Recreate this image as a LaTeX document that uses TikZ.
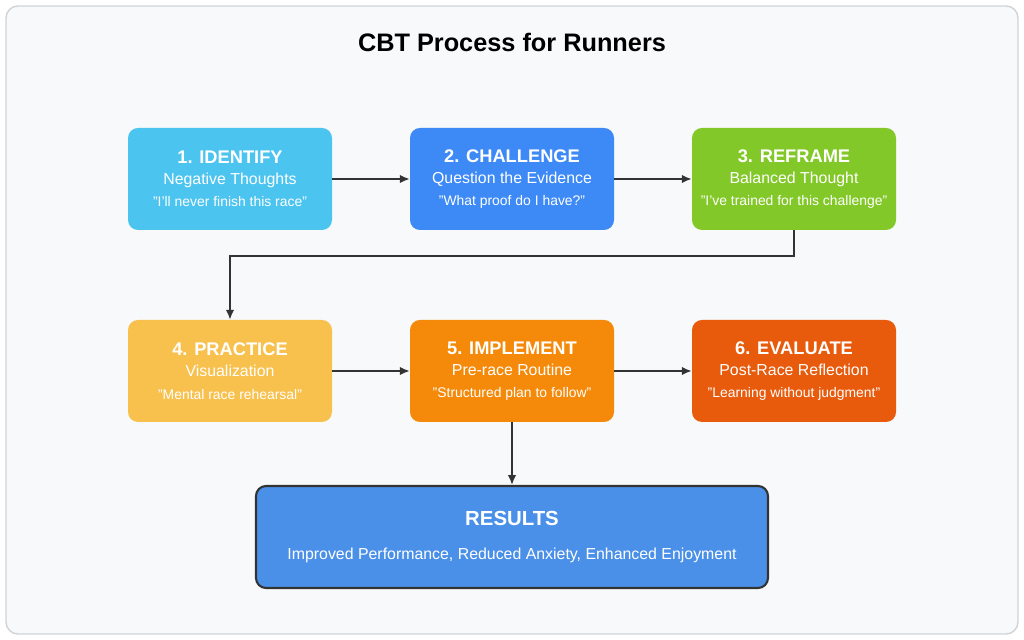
\documentclass[tikz,border=0pt]{standalone}
\usepackage{fontspec}
\setmainfont{Liberation Sans}
\usepackage{xcolor}
\usetikzlibrary{arrows.meta}
\definecolor{frameback}{HTML}{F8F9FA}
\definecolor{framegray}{HTML}{D0D4D8}
\definecolor{identifycol}{HTML}{4CC4F0}
\definecolor{challengecol}{HTML}{3D8AF7}
\definecolor{reframecol}{HTML}{82C828}
\definecolor{practicecol}{HTML}{F8C14E}
\definecolor{implementcol}{HTML}{F58A0A}
\definecolor{evaluatecol}{HTML}{E85A0C}
\definecolor{resultcol}{HTML}{4A90E8}
\definecolor{linecol}{HTML}{333333}
\tikzstyle{stage} = [rounded corners=0.25cm, minimum width=5.1cm, minimum height=2.55cm, text=white, align=center, inner sep=0pt]
\tikzstyle{arrow} = [line width=1.2pt, draw=linecol, -{Latex[length=7pt,width=6pt]}]
\newcommand{\stagebox}[3]{{\fontsize{13}{16}\selectfont\bfseries #1}\\[3pt]{\fontsize{11.3}{14}\selectfont #2}\\[4pt]{\fontsize{9.9}{12}\selectfont #3}}

\begin{document}
\begin{tikzpicture}
\useasboundingbox (0,0) rectangle (25.6,16);
\draw[fill=frameback, draw=framegray, line width=1pt, rounded corners=0.3cm] (0.15,0.15) rectangle (25.45,15.85);
\node[font=\fontsize{18}{22}\selectfont\bfseries] (title) at (12.8,14.95) {CBT Process for Runners};

% first row
\node[stage, fill=identifycol] (identify) at (5.75,11.525) {\stagebox{1. IDENTIFY}{Negative Thoughts}{"I'll never finish this race"}};
\node[stage, fill=challengecol] (challenge) at (12.8,11.525) {\stagebox{2. CHALLENGE}{Question the Evidence}{"What proof do I have?"}};
\node[stage, fill=reframecol] (reframe) at (19.85,11.525) {\stagebox{3. REFRAME}{Balanced Thought}{"I've trained for this challenge"}};

% second row
\node[stage, fill=practicecol] (practice) at (5.75,6.725) {\stagebox{4. PRACTICE}{Visualization}{"Mental race rehearsal"}};
\node[stage, fill=implementcol] (implement) at (12.8,6.725) {\stagebox{5. IMPLEMENT}{Pre-race Routine}{"Structured plan to follow"}};
\node[stage, fill=evaluatecol] (evaluate) at (19.85,6.725) {\stagebox{6. EVALUATE}{Post-Race Reflection}{"Learning without judgment"}};

\node[stage, fill=resultcol, draw=linecol, line width=1.5pt, minimum width=12.8cm] (results) at (12.8,2.575)
  {{\fontsize{14.5}{18}\selectfont\bfseries RESULTS}\\[12pt]{\fontsize{11.3}{14}\selectfont Improved Performance, Reduced Anxiety, Enhanced Enjoyment}};

\draw[arrow] (identify) -- (challenge);
\draw[arrow] (challenge) -- (reframe);
\draw[arrow] (reframe.south) -- ++(0,-0.65) -| (practice.north);
\draw[arrow] (practice) -- (implement);
\draw[arrow] (implement) -- (evaluate);
\draw[arrow] (implement) -- (results);
\end{tikzpicture}
\end{document}
